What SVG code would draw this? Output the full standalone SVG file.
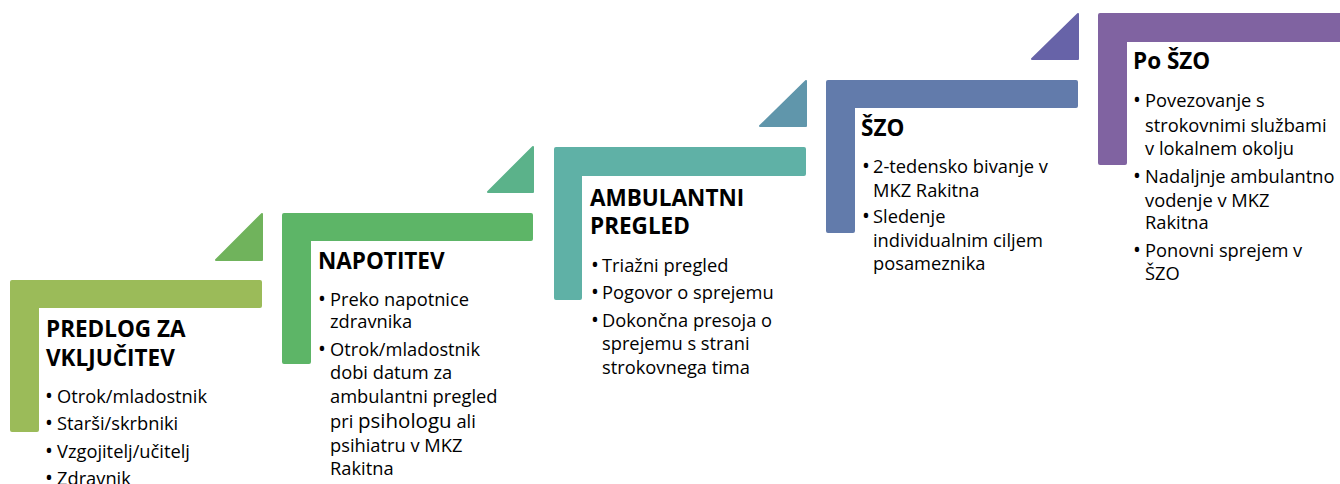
<svg xmlns="http://www.w3.org/2000/svg" width="1340" height="484" viewBox="0 0 1340 484">
<style>
.t{font-family:"Open Sans","Liberation Sans",sans-serif;font-weight:bold;font-size:22.5px;fill:#000}
.b{font-family:"Open Sans","Liberation Sans",sans-serif;font-size:18.3px;fill:#000}
.d{font-size:21px}
.big{font-size:20.5px}
.tri{stroke-linejoin:round;stroke-width:2}
</style>
<rect width="1340" height="484" fill="#fff"/>
<g id="connectors">
<path class="tri" d="M216,260 L262,214 L262,260 Z" fill="#70B35C" stroke="#70B35C"/>
<path class="tri" d="M488,192 L533,147 L533,192 Z" fill="#5BB28A" stroke="#5BB28A"/>
<path class="tri" d="M760,126 L806,81 L806,126 Z" fill="#6096AB" stroke="#6096AB"/>
<path class="tri" d="M1032,59 L1078,14 L1078,59 Z" fill="#6763A8" stroke="#6763A8"/>
</g>
<g id="node1">
<path d="M12,280 H260 a2,2 0 0 1 2,2 V306 a2,2 0 0 1 -2,2 H39 V430 a2,2 0 0 1 -2,2 H12 a2,2 0 0 1 -2,-2 V282 a2,2 0 0 1 2,-2 Z" fill="#9BBB59"/>
<text class="t" x="46" y="337">PREDLOG ZA</text>
<text class="t" x="46" y="365.5">VKLJUČITEV</text>
<text class="b"><tspan class="d" x="45" y="402.5">•</tspan><tspan x="57">Otrok/mladostnik</tspan></text>
<text class="b"><tspan class="d" x="45" y="430">•</tspan><tspan x="57">Starši/skrbniki</tspan></text>
<text class="b"><tspan class="d" x="45" y="457.5">•</tspan><tspan x="57">Vzgojitelj/učitelj</tspan></text>
<text class="b"><tspan class="d" x="45" y="485">•</tspan><tspan x="57">Zdravnik</tspan></text>
</g>
<g id="node2">
<path d="M284,213 H531 a2,2 0 0 1 2,2 V239 a2,2 0 0 1 -2,2 H311 V362 a2,2 0 0 1 -2,2 H284 a2,2 0 0 1 -2,-2 V215 a2,2 0 0 1 2,-2 Z" fill="#5DB567"/>
<text class="t" x="318" y="269">NAPOTITEV</text>
<text class="b"><tspan class="d" x="318" y="305.5">•</tspan><tspan x="330">Preko napotnice</tspan></text>
<text class="b" x="330" y="328">zdravnika</text>
<text class="b"><tspan class="d" x="318" y="356">•</tspan><tspan x="330">Otrok/mladostnik</tspan></text>
<text class="b" x="330" y="379">dobi datum za</text>
<text class="b" x="330" y="403">ambulantni pregled</text>
<text class="b" x="330" y="427.5">pri <tspan class="big">psihologu</tspan> ali</text>
<text class="b" x="330" y="451.5">psihiatru v MKZ</text>
<text class="b" x="330" y="475">Rakitna</text>
</g>
<g id="node3">
<path d="M556,147 H804 a2,2 0 0 1 2,2 V174 a2,2 0 0 1 -2,2 H582 V298 a2,2 0 0 1 -2,2 H556 a2,2 0 0 1 -2,-2 V149 a2,2 0 0 1 2,-2 Z" fill="#5FB1A6"/>
<text class="t" x="590" y="206">AMBULANTNI</text>
<text class="t" x="590" y="234">PREGLED</text>
<text class="b"><tspan class="d" x="591" y="271.5">•</tspan><tspan x="602">Triažni pregled</tspan></text>
<text class="b"><tspan class="d" x="591" y="299">•</tspan><tspan x="602">Pogovor o sprejemu</tspan></text>
<text class="b"><tspan class="d" x="591" y="326.5">•</tspan><tspan x="602">Dokončna presoja o</tspan></text>
<text class="b" x="602" y="350">sprejemu s strani</text>
<text class="b" x="602" y="374">strokovnega tima</text>
</g>
<g id="node4">
<path d="M828,80 H1076 a2,2 0 0 1 2,2 V106 a2,2 0 0 1 -2,2 H855 V231 a2,2 0 0 1 -2,2 H828 a2,2 0 0 1 -2,-2 V82 a2,2 0 0 1 2,-2 Z" fill="#627BAB"/>
<text class="t" x="861" y="136">ŠZO</text>
<text class="b"><tspan class="d" x="862" y="172.5">•</tspan><tspan x="873">2-tedensko bivanje v</tspan></text>
<text class="b" x="873" y="196.5">MKZ Rakitna</text>
<text class="b"><tspan class="d" x="862" y="222.5">•</tspan><tspan x="873">Sledenje</tspan></text>
<text class="b" x="873" y="246.5">individualnim ciljem</text>
<text class="b" x="873" y="270">posameznika</text>
</g>
<g id="node5">
<path d="M1100,13 H1342 V42 H1127 V163 a2,2 0 0 1 -2,2 H1100 a2,2 0 0 1 -2,-2 V15 a2,2 0 0 1 2,-2 Z" fill="#8063A1"/>
<text class="t" x="1133" y="69">Po ŠZO</text>
<text class="b"><tspan class="d" x="1133" y="106.5">•</tspan><tspan x="1145">Povezovanje s</tspan></text>
<text class="b" x="1145" y="131.5">strokovnimi službami</text>
<text class="b" x="1145" y="155">v lokalnem okolju</text>
<text class="b"><tspan class="d" x="1133" y="182.5">•</tspan><tspan x="1145">Nadaljnje ambulantno</tspan></text>
<text class="b" x="1145" y="206.5">vodenje v MKZ</text>
<text class="b" x="1145" y="229">Rakitna</text>
<text class="b"><tspan class="d" x="1133" y="257">•</tspan><tspan x="1145">Ponovni sprejem v</tspan></text>
<text class="b" x="1145" y="280">ŠZO</text>
</g>
</svg>
